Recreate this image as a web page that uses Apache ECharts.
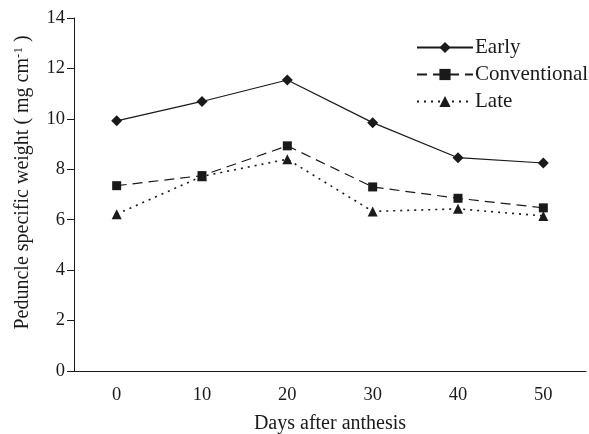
<!DOCTYPE html>
<html><head><meta charset="utf-8">
<script src="https://cdn.jsdelivr.net/npm/echarts@6/dist/echarts.min.js"></script>
<style>html,body{margin:0;padding:0;background:#fff}#c{width:589px;height:434px}</style>
</head><body><div id="c"></div>
<script>
const categories = ['0','10','20','30','40','50'];
const early = [9.92, 10.69, 11.54, 9.85, 8.46, 8.25];
const conventional = [7.35, 7.75, 8.93, 7.3, 6.85, 6.47];
const late = [6.22, 7.72, 8.4, 6.33, 6.43, 6.15];
const yTicks = [0, 2, 4, 6, 8, 10, 12, 14];

const FONT = 'Liberation Serif';
const C = '#1a1a1a';
const chart = echarts.init(document.getElementById('c'));
chart.setOption({
  animation: false,
  textStyle: {fontFamily: FONT, color: C},
  grid: {left: 74, right: 3, top: 18, bottom: 63, containLabel: false, outerBoundsMode: 'none'},
  legend: {
    orient: 'vertical', left: 411, top: 32, itemWidth: 56, itemHeight: 14, itemGap: 6,
    textStyle: {fontFamily: FONT, fontSize: 21, color: C, padding: [0,0,0,-3]},
    data: ['Early', 'Conventional', 'Late']
  },
  xAxis: {
    type: 'category', data: categories, boundaryGap: true,
    name: 'Days after anthesis', nameLocation: 'middle', nameGap: 43,
    nameTextStyle: {fontFamily: FONT, fontSize: 20, color: C},
    axisLine: {lineStyle: {color: C, width: 1}},
    axisTick: {inside: true, length: 6, lineStyle: {color: C}},
    axisLabel: {fontFamily: FONT, fontSize: 18.5, color: C, margin: 15}
  },
  yAxis: {
    type: 'value', min: yTicks[0], max: yTicks[yTicks.length-1], interval: 2,
    name: '{a|Peduncle specific weight ( mg cm}{s|-1}{a| )}', nameLocation: 'middle', nameGap: 40, nameRotate: 90,
    nameTextStyle: {padding: [0,0,0,24], rich: {a: {fontFamily: FONT, fontSize: 20, color: C}, s: {fontFamily: FONT, fontSize: 13, color: C, verticalAlign: 'top', padding: [0,0,9,0]}}},
    axisLine: {show: true, lineStyle: {color: C, width: 1}},
    axisTick: {show: true, length: 7, lineStyle: {color: C}},
    splitLine: {show: false},
    axisLabel: {fontFamily: FONT, fontSize: 18.5, color: C, margin: 9}
  },
  series: [
    {name: 'Early', type: 'line', data: early, symbol: 'diamond', symbolSize: 11,
     itemStyle: {color: C}, lineStyle: {color: C, width: 1.2, type: 'solid'}},
    {name: 'Conventional', type: 'line', data: conventional, symbol: 'rect', symbolSize: 9,
     itemStyle: {color: C}, lineStyle: {color: C, width: 1.2, type: [10, 6]}},
    {name: 'Late', type: 'line', data: late, symbol: 'triangle', symbolSize: 10,
     itemStyle: {color: C}, lineStyle: {color: C, width: 1.6, type: [2, 5]}}
  ]
});
</script></body></html>
